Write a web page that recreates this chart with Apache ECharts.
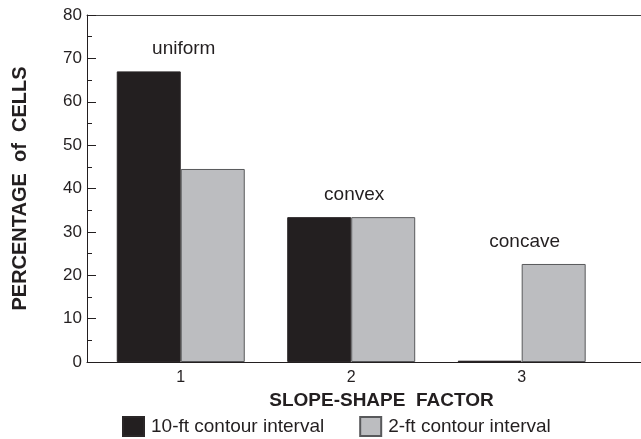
<!DOCTYPE html>
<html>
<head>
<meta charset="utf-8">
<script src="https://cdn.jsdelivr.net/npm/echarts@6/dist/echarts.min.js"></script>
<style>
html,body{margin:0;padding:0;background:#fff;}
#chart{width:641px;height:439px;}
</style>
</head>
<body>
<div id="chart"></div>
<script>
const categories = [1, 2, 3];
const shapeLabels = ['uniform', 'convex', 'concave'];
const tenFt = [67.0, 33.4, 0.3];
const twoFt = [44.5, 33.4, 22.6];
const seriesNames = ['10-ft contour interval', '2-ft contour interval'];
const yTicks = [0, 10, 20, 30, 40, 50, 60, 70, 80];

const ink = '#231f20';
const chart = echarts.init(document.getElementById('chart'));

const labelData = categories.map((c, i) => ({
  value: [c, Math.max(tenFt[i], twoFt[i])],
  name: shapeLabels[i]
}));

chart.setOption({
  animation: false,
  backgroundColor: '#ffffff',
  textStyle: { fontFamily: 'Liberation Sans, Arial, sans-serif', color: ink },
  grid: { left: 87, right: 0, top: 15, bottom: 77, containLabel: false },
  legend: {
    data: seriesNames,
    left: 122, top: 416, padding: 0,
    itemWidth: 21, itemHeight: 19, itemGap: 35,
    icon: 'rect',
    textStyle: { fontSize: 19, color: ink, padding: [0, 0, 0, 2] }
  },
  xAxis: [{
    type: 'value', min: 0.45, max: 3.7,
    splitLine: { show: false },
    axisLine: { show: true, lineStyle: { color: ink, width: 1 } },
    axisTick: { show: false },
    axisLabel: { customValues: categories, fontSize: 16, color: ink, margin: 8 },
    name: 'SLOPE-SHAPE  FACTOR', nameLocation: 'middle', nameGap: 26,
    nameTextStyle: { fontSize: 19, fontWeight: 'bold', color: ink, padding: [0, 0, 0, 35] }
  }, {
    type: 'value', position: 'top', min: 0.45, max: 3.7,
    splitLine: { show: false },
    axisLine: { show: true, onZero: false, lineStyle: { color: '#444', width: 1 } },
    axisTick: { show: false }, axisLabel: { show: false }
  }],
  yAxis: {
    type: 'value', min: 0, max: 80, interval: 10,
    splitLine: { show: false },
    axisLine: { show: true, lineStyle: { color: ink, width: 1 } },
    axisTick: { show: true, inside: true, length: 9, lineStyle: { color: ink } },
    minorTick: { show: true, splitNumber: 2, length: 5, lineStyle: { color: ink } },
    axisLabel: { fontSize: 17, color: ink, margin: 5, customValues: yTicks },
    name: 'PERCENTAGE  of  CELLS', nameLocation: 'middle', nameGap: 57, nameRotate: 90,
    nameTextStyle: { fontSize: 20, fontWeight: 'bold', color: ink, padding: [0, 0, 0, 0] }
  },
  series: [{
    name: seriesNames[0], type: 'bar', xAxisIndex: 0,
    data: categories.map((c, i) => [c, tenFt[i]]),
    barWidth: 64, barGap: '0%',
    itemStyle: { color: ink, borderColor: '#2a2627', borderWidth: 1 }
  }, {
    name: seriesNames[1], type: 'bar', xAxisIndex: 0,
    data: categories.map((c, i) => [c, twoFt[i]]),
    barWidth: 64, barGap: '0%',
    itemStyle: { color: '#bcbdc0', borderColor: '#58595b', borderWidth: 1 }
  }, {
    name: 'labels', type: 'scatter', xAxisIndex: 0,
    data: labelData, symbolSize: 0, silent: true,
    itemStyle: { opacity: 1, color: ink },
    label: {
      show: true, position: 'top', distance: 13, offset: [3, 0],
      formatter: p => p.name, fontSize: 19, color: ink
    }
  }]
});
</script>
</body>
</html>
